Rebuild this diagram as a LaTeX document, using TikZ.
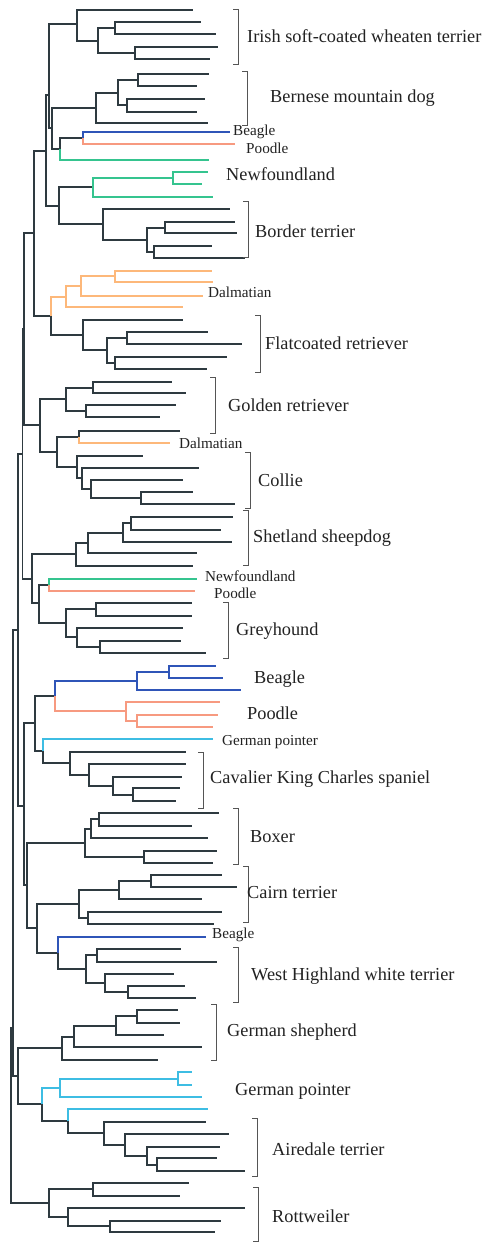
\documentclass[tikz,border=0pt]{standalone}
\usepackage{fontspec}
\setmainfont{Liberation Serif}
\definecolor{dk}{HTML}{2E3A40}
\definecolor{bl}{HTML}{2F55B8}
\definecolor{sa}{HTML}{F79A80}
\definecolor{gn}{HTML}{35C48F}
\definecolor{og}{HTML}{FDB87A}
\definecolor{cy}{HTML}{3EBDE3}
\definecolor{br}{HTML}{555555}
\definecolor{tx}{HTML}{222222}
\tikzset{
  edk/.style={draw=dk,line width=1.6pt},
  ebl/.style={draw=bl,line width=1.7pt},
  esa/.style={draw=sa,line width=2.2pt},
  egn/.style={draw=gn,line width=1.7pt},
  eog/.style={draw=og,line width=2.2pt},
  ecy/.style={draw=cy,line width=1.7pt},
  bigl/.style={font=\fontsize{18.3}{22}\selectfont,anchor=west,inner sep=0pt,text=tx},
  smalll/.style={font=\fontsize{15.2}{18}\selectfont,anchor=west,inner sep=0pt,text=tx},
  brk/.style={draw=br,line width=1pt}
}
\newcommand{\dbrack}[3]{\draw[brk] (#1-5,#2) -- (#1,#2) -- (#1,#3) -- (#1-5,#3);}
\begin{document}
\begin{tikzpicture}[x=1pt,y=-1pt]
\useasboundingbox[fill=white] (0,0) rectangle (489,1242);
% leaves
\foreach \n/\x/\y in {l1/193/10,l2/201/22,l3/216/34,l4/218/47,l5/210/59,
 l6/209/74,l7/197/86,l8/205/99,l9/197/112,l10/208/123,
 bg1/230/132,pd1/235/144,gn1/209/160,
 nf1/208/172,nf2/202/184,nf3/213/197,
 bt1/230/209,bt2/235/222,bt3/237/233,bt4/212/246,bt5/245/258,
 da1/212/271,da2/213/282,da3/203/296,da4/183/307,
 fc1/183/320,fc2/208/332,fc3/242/344,fc4/227/357,fc5/207/369,
 gr1/172/382,gr2/186/393,gr3/176/405,gr4/160/417,
 aa1/180/431,da5/170/443,
 co1/143/456,co2/199/468,co3/183/480,co4/193/492,co5/235/504,
 sh1/233/517,sh2/221/530,sh3/232/542,sh4/197/553,sh5/193/566,
 nf4/197/579,pd2/195/591,
 gh1/192/603,gh2/192/616,gh3/183/628,gh4/181/641,gh5/206/653,
 bg2/216/666,bg3/223/678,bg4/241/690,
 pd3/220/702,pd4/218/715,pd5/213/727,
 gp1/213/739,
 cv1/186/752,cv2/186/764,cv3/182/777,cv4/180/788,cv5/176/801,
 bx1/219/813,bx2/192/826,bx3/208/838,bx4/217/851,bx5/213/863,
 cr1/222/875,cr2/237/887,cr3/202/899,cr4/222/912,cr5/214/924,
 bg5/206/937,
 wh1/181/949,wh2/217/962,wh3/174/974,wh4/185/986,wh5/196/998,
 gs1/178/1010,gs2/180/1023,gs3/164/1035,gs4/202/1047,gs5/158/1060,
 gp2/192/1072,gp3/192/1085,gp4/202/1097,gp5/208/1109,
 ad1/206/1122,ad2/229/1134,ad3/220/1147,ad4/217/1158,ad5/245/1171,
 rt1/189/1183,rt2/180/1196,rt3/245/1208,rt4/221/1221,rt5/215/1232}
 {\coordinate (\n) at (\x,\y);}
% internal nodes
\foreach \n/\x/\y in {nA/115/28,nB/135/53,nC/98/41,nD/77/24,
 nE/138/80,nF/127/105,nG/118/93,nH/96/108,
 nK/83/138,nL/60/149,nI/52/128,nM/49/95,
 nN0/173/178,nN1/93/187,nR/165/228,nS/154/252,nQ/147/240,nP/103/224,nN2/59/206,nT/46/151,
 nW1/115/276,nW2/81/286,nW3/66/297,
 nX1/127/338,nX2/115/363,nX3/107/350,nX4/83/335,nV/51/316,nU/34/233,
 nZ1/93/388,nZ2/86/411,nZ3/66/399,nAA/79/437,
 nCC1/141/498,nCC2/91/489,nCC3/82/478,nCC4/77/467,nCC5/57/452,nDD/40/425,nY/24/329,
 ns12/131/523,ns123/123/533,ns1234/88/543,nSS/76/554,
 nNP/49/585,ng12/96/609,ng45/100/647,ng345/77/637,ngall/66/623,nNG/39/603,nSH/32/579,nY2/22.3/454,
 nb12/169/672,nb123/137/681,np23/137/721,np123/126/711,nBP/55/696,
 ncv45/133/795,ncv345/113/786,ncv2345/89/775,ncvall/70/763,nGPC/43/751,nBPC/35/723,
 nbx12/99/819,nbx123/91/829,nbx45/144/857,nbxall/85/843,
 ncr12/151/881,ncr123/119/890,ncr45/88/918,ncrall/79/904,
 nw12/97/955,nw45/128/992,nw345/105/983,nwall/86/969,nBW/58/953,
 nN37/37/928,nN27/27/885,nQ24/24/806,nRA/18/630,
 ngs12/137/1016,ngs123/116/1026,ngs1234/74/1037,ngsall/62/1048,
 ngp12/178/1079,ngp123/60/1088,
 nad45/157/1165,nad345/147/1156,nad2345/125/1145,nadall/104/1133,
 nGpA/68/1121,nGPAD/42/1104,nGS/18/1076,nR13/13.2/1028,
 nrt12/93/1189,nrt45/110/1226,nrt345/68/1217,nrtall/49/1203,nroot/11/1115}
 {\coordinate (\n) at (\x,\y);}
% dark edges
\foreach \p/\c in {nA/l2,nA/l3,nB/l4,nB/l5,nC/nA,nC/nB,nD/l1,nD/nC,
 nE/l6,nE/l7,nF/l8,nF/l9,nG/nE,nG/nF,nH/nG,nH/l10,
 nL/nK,nI/nH,nI/nL,nM/nD,nM/nI,
 nR/bt2,nR/bt3,nS/bt4,nS/bt5,nQ/nR,nQ/nS,nP/bt1,nP/nQ,nN2/nN1,nN2/nP,nT/nM,nT/nN2,
 nX1/fc2,nX1/fc3,nX2/fc4,nX2/fc5,nX3/nX1,nX3/nX2,nX4/fc1,nX4/nX3,nV/nX4,nU/nT,nU/nV,
 nZ1/gr1,nZ1/gr2,nZ2/gr3,nZ2/gr4,nZ3/nZ1,nZ3/nZ2,nAA/aa1,
 nCC1/co4,nCC1/co5,nCC2/co3,nCC2/nCC1,nCC3/co2,nCC3/nCC2,nCC4/co1,nCC4/nCC3,nCC5/nAA,nCC5/nCC4,nDD/nZ3,nDD/nCC5,nY/nU,nY/nDD,
 ns12/sh1,ns12/sh2,ns123/ns12,ns123/sh3,ns1234/ns123,ns1234/sh4,nSS/ns1234,nSS/sh5,
 ng12/gh1,ng12/gh2,ng45/gh4,ng45/gh5,ng345/gh3,ng345/ng45,ngall/ng12,ngall/ng345,nNG/nNP,nNG/ngall,nSH/nSS,nSH/nNG,nY2/nY,nY2/nSH,
 ncv45/cv4,ncv45/cv5,ncv345/cv3,ncv345/ncv45,ncv2345/cv2,ncv2345/ncv345,ncvall/cv1,ncvall/ncv2345,nGPC/ncvall,nBPC/nBP,nBPC/nGPC,
 nbx12/bx1,nbx12/bx2,nbx123/nbx12,nbx123/bx3,nbx45/bx4,nbx45/bx5,nbxall/nbx123,nbxall/nbx45,
 ncr12/cr1,ncr12/cr2,ncr123/ncr12,ncr123/cr3,ncr45/cr4,ncr45/cr5,ncrall/ncr123,ncrall/ncr45,
 nw12/wh1,nw12/wh2,nw45/wh4,nw45/wh5,nw345/wh3,nw345/nw45,nwall/nw12,nwall/nw345,nBW/nwall,nN37/ncrall,nN37/nBW,nN27/nbxall,nN27/nN37,nQ24/nBPC,nQ24/nN27,nRA/nY2,nRA/nQ24,
 ngs12/gs1,ngs12/gs2,ngs123/ngs12,ngs123/gs3,ngs1234/ngs123,ngs1234/gs4,ngsall/ngs1234,ngsall/gs5,
 nad45/ad4,nad45/ad5,nad345/ad3,nad345/nad45,nad2345/ad2,nad2345/nad345,nadall/ad1,nadall/nad2345,nGpA/nadall,nGPAD/nGpA,nGS/ngsall,nGS/nGPAD,nR13/nRA,nR13/nGS,
 nrt12/rt1,nrt12/rt2,nrt45/rt4,nrt45/rt5,nrt345/rt3,nrt345/nrt45,nrtall/nrt12,nrtall/nrt345,nroot/nR13,nroot/nrtall}
 {\draw[edk] (\p) |- (\c);}
% coloured edges
\foreach \p/\c in {nK/bg1,nb12/bg2,nb12/bg3,nb123/nb12,nb123/bg4,nBP/nb123,nBW/bg5}
 {\draw[ebl] (\p) |- (\c);}
\foreach \p/\c in {nK/pd1,nNP/pd2,np23/pd4,np23/pd5,np123/pd3,np123/np23,nBP/np123}
 {\draw[esa] (\p) |- (\c);}
\foreach \p/\c in {nL/gn1,nN0/nf1,nN0/nf2,nN1/nN0,nN1/nf3,nNP/nf4}
 {\draw[egn] (\p) |- (\c);}
\foreach \p/\c in {nW1/da1,nW1/da2,nW2/nW1,nW2/da3,nW3/nW2,nW3/da4,nV/nW3,nAA/da5}
 {\draw[eog] (\p) |- (\c);}
\foreach \p/\c in {nGPC/gp1,ngp12/gp2,ngp12/gp3,ngp123/ngp12,ngp123/gp4,nGPAD/ngp123,nGpA/gp5}
 {\draw[ecy] (\p) |- (\c);}
% brackets
\dbrack{238}{9}{64}
\dbrack{247}{71}{125}
\dbrack{248}{201}{257}
\dbrack{260}{315}{372}
\dbrack{215}{377}{433}
\dbrack{250}{452}{508}
\dbrack{248}{510}{565}
\dbrack{228}{602}{658}
\dbrack{203}{752}{808}
\dbrack{238}{808}{864}
\dbrack{248}{866}{922}
\dbrack{238}{947}{1002}
\dbrack{216}{1004}{1060}
\dbrack{257}{1118}{1176}
\dbrack{258}{1187}{1241}
% labels
\node[bigl] (t1) at (247,36) {Irish soft-coated wheaten terrier};
\node[bigl] (t2) at (270,98) {Bernese mountain dog};
\node[smalll] (t3) at (233,132) {Beagle};
\node[smalll] (t4) at (246,148) {Poodle};
\node[bigl] (t5) at (226,174) {Newfoundland};
\node[bigl] (t6) at (255,231) {Border terrier};
\node[smalll] (t7) at (208,292) {Dalmatian};
\node[bigl] (t8) at (265,343) {Flatcoated retriever};
\node[bigl] (t9) at (228,405) {Golden retriever};
\node[smalll] (t10) at (179,443) {Dalmatian};
\node[bigl] (t11) at (258,480) {Collie};
\node[bigl] (t12) at (253,538) {Shetland sheepdog};
\node[smalll] (t13) at (205,576) {Newfoundland};
\node[smalll] (t14) at (214,593) {Poodle};
\node[bigl] (t15) at (236,631) {Greyhound};
\node[bigl] (t16) at (254,679) {Beagle};
\node[bigl] (t17) at (247,713) {Poodle};
\node[smalll] (t18) at (222,742) {German pointer};
\node[bigl] (t19) at (210,779) {Cavalier King Charles spaniel};
\node[bigl] (t20) at (250,837) {Boxer};
\node[bigl] (t21) at (247,893) {Cairn terrier};
\node[smalll] (t22) at (212,935) {Beagle};
\node[bigl] (t23) at (251,976) {West Highland white terrier};
\node[bigl] (t24) at (227,1032) {German shepherd};
\node[bigl] (t25) at (235,1091) {German pointer};
\node[bigl] (t26) at (272,1149) {Airedale terrier};
\node[bigl] (t27) at (272,1216) {Rottweiler};
\end{tikzpicture}
\end{document}
